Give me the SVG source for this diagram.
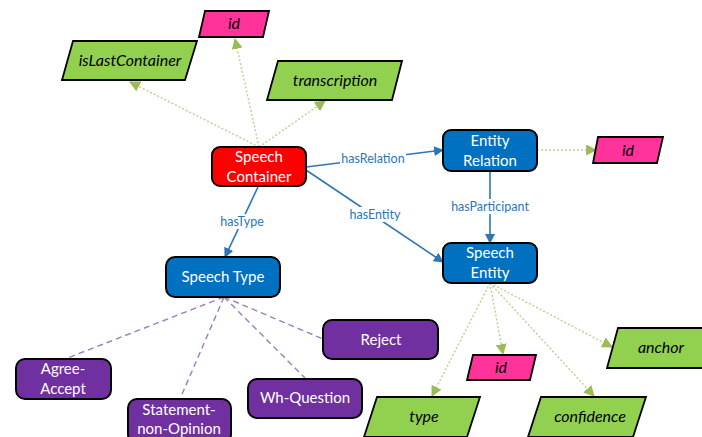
<svg xmlns="http://www.w3.org/2000/svg" width="702" height="437" viewBox="0 0 702 437">
  <style>
    .node { stroke: #000; stroke-width: 2; }
    .red { fill: #ff0000; }
    .blue { fill: #0070c0; }
    .purple { fill: #7030a0; }
    .green { fill: #92d050; stroke: #000; stroke-width: 1.8; }
    .pink { fill: #ff3399; stroke: #000; stroke-width: 1.8; }
    .ntext { font-family: Lato, "Open Sans", sans-serif; font-size: 15px; fill: #fff; text-anchor: middle; }
    .atext { font-family: Lato, "Open Sans", sans-serif; font-size: 16px; font-style: italic; fill: #000; text-anchor: middle; }
    .rel { stroke: #2e75b6; stroke-width: 1.6; fill: none; }
    .attr { stroke: #bccf90; stroke-width: 1.4; stroke-dasharray: 2 2; fill: none; }
    .inst { stroke: #9e7cc1; stroke-width: 1.4; stroke-dasharray: 6 4; fill: none; }
    .lbg { fill: #fff; }
    .ltext { font-family: Lato, "Open Sans", sans-serif; font-size: 12.5px; fill: #2e75b6; text-anchor: middle; }
  </style>
  <defs>
    <marker id="arrowBlue" viewBox="0 0 10 10" refX="9" refY="5" markerWidth="10" markerHeight="10" markerUnits="userSpaceOnUse" orient="auto">
      <path d="M0,0 L10,5 L0,10 z" fill="#2e75b6"/>
    </marker>
    <marker id="arrowGreen" viewBox="0 0 10 10" refX="9" refY="5" markerWidth="11" markerHeight="11" markerUnits="userSpaceOnUse" orient="auto">
      <path d="M0,0 L10,5 L0,10 z" fill="#9bbb59"/>
    </marker>
  </defs>

  <g id="connectors">
    <!-- Speech Container attributes -->
    <line class="attr" x1="259" y1="147" x2="130" y2="82" marker-end="url(#arrowGreen)"/>
    <line class="attr" x1="259" y1="147" x2="235" y2="39" marker-end="url(#arrowGreen)"/>
    <line class="attr" x1="259" y1="147" x2="325" y2="101" marker-end="url(#arrowGreen)"/>
    <!-- Entity Relation attribute -->
    <line class="attr" x1="537" y1="150" x2="596" y2="150" marker-end="url(#arrowGreen)"/>
    <!-- Speech Entity attributes -->
    <line class="attr" x1="490" y1="283" x2="432" y2="396" marker-end="url(#arrowGreen)"/>
    <line class="attr" x1="490" y1="283" x2="503" y2="354" marker-end="url(#arrowGreen)"/>
    <line class="attr" x1="490" y1="283" x2="594" y2="396" marker-end="url(#arrowGreen)"/>
    <line class="attr" x1="490" y1="283" x2="612" y2="347" marker-end="url(#arrowGreen)"/>
    <!-- Speech Type instances -->
    <line class="inst" x1="224" y1="297" x2="65" y2="359"/>
    <line class="inst" x1="224" y1="297" x2="180" y2="399"/>
    <line class="inst" x1="224" y1="297" x2="305" y2="378"/>
    <line class="inst" x1="224" y1="297" x2="323" y2="339"/>
    <!-- object relations -->
    <line class="rel" x1="306" y1="167" x2="443" y2="150" marker-end="url(#arrowBlue)"/>
    <line class="rel" x1="306" y1="170" x2="443" y2="262" marker-end="url(#arrowBlue)"/>
    <line class="rel" x1="490" y1="171" x2="490" y2="243" marker-end="url(#arrowBlue)"/>
    <line class="rel" x1="258" y1="187" x2="225" y2="257" marker-end="url(#arrowBlue)"/>
    <!-- relation labels -->
    <rect class="lbg" x="340" y="151" width="66" height="15"/>
    <text class="ltext" x="373" y="163">hasRelation</text>
    <rect class="lbg" x="348" y="207" width="55" height="15"/>
    <text class="ltext" x="375" y="219">hasEntity</text>
    <rect class="lbg" x="447" y="199" width="86" height="15"/>
    <text class="ltext" x="490" y="211">hasParticipant</text>
    <rect class="lbg" x="217" y="214" width="50" height="15"/>
    <text class="ltext" x="242" y="226">hasType</text>
  </g>

  <g id="speech-container">
    <rect class="node red" x="212" y="147" width="94" height="39" rx="8"/>
    <text class="ntext" x="259" y="162">Speech</text>
    <text class="ntext" x="259" y="182">Container</text>
  </g>
  <g id="entity-relation">
    <rect class="node blue" x="443" y="130" width="94" height="41" rx="8"/>
    <text class="ntext" x="490" y="146">Entity</text>
    <text class="ntext" x="490" y="166">Relation</text>
  </g>
  <g id="speech-entity">
    <rect class="node blue" x="443" y="243" width="94" height="40" rx="8"/>
    <text class="ntext" x="490" y="258">Speech</text>
    <text class="ntext" x="490" y="278">Entity</text>
  </g>
  <g id="speech-type">
    <rect class="node blue" x="166" y="257" width="114" height="40" rx="9"/>
    <text class="ntext" x="223" y="282">Speech Type</text>
  </g>
  <g id="reject">
    <rect class="node purple" x="323" y="320" width="115" height="39" rx="9"/>
    <text class="ntext" x="381" y="345">Reject</text>
  </g>
  <g id="agree-accept">
    <rect class="node purple" x="16" y="359" width="95" height="40" rx="9"/>
    <text class="ntext" x="63" y="374">Agree-</text>
    <text class="ntext" x="63" y="394">Accept</text>
  </g>
  <g id="statement-non-opinion">
    <rect class="node purple" x="128" y="399" width="103" height="44" rx="9"/>
    <text class="ntext" x="179" y="415">Statement-</text>
    <text class="ntext" x="179" y="434">non-Opinion</text>
  </g>
  <g id="wh-question">
    <rect class="node purple" x="248" y="379" width="114" height="39" rx="9"/>
    <text class="ntext" x="305" y="403">Wh-Question</text>
  </g>

  <g id="container-id">
    <polygon class="pink" points="205,11 269,11 263,37 199,37"/>
    <text class="atext" x="234" y="29">id</text>
  </g>
  <g id="is-last-container">
    <polygon class="green" points="73,41 197,41 185,80 62,80"/>
    <text class="atext" x="130" y="66">isLastContainer</text>
  </g>
  <g id="transcription">
    <polygon class="green" points="278,61 402,61 392,100 267,100"/>
    <text class="atext" x="335" y="86">transcription</text>
  </g>
  <g id="relation-id">
    <polygon class="pink" points="598,137 663,137 657,163 593,163"/>
    <text class="atext" x="628" y="156">id</text>
  </g>
  <g id="entity-id">
    <polygon class="pink" points="473,355 536,355 530,380 467,380"/>
    <text class="atext" x="501" y="373">id</text>
  </g>
  <g id="entity-type">
    <polygon class="green" points="377,397 480,397 467,437 364,437"/>
    <text class="atext" x="424" y="422">type</text>
  </g>
  <g id="confidence">
    <polygon class="green" points="541,397 646,397 633,437 528,437"/>
    <text class="atext" x="590" y="422">confidence</text>
  </g>
  <g id="anchor">
    <polygon class="green" points="618,328 714,328 703,368 607,368"/>
    <text class="atext" x="661" y="353">anchor</text>
  </g>
</svg>
